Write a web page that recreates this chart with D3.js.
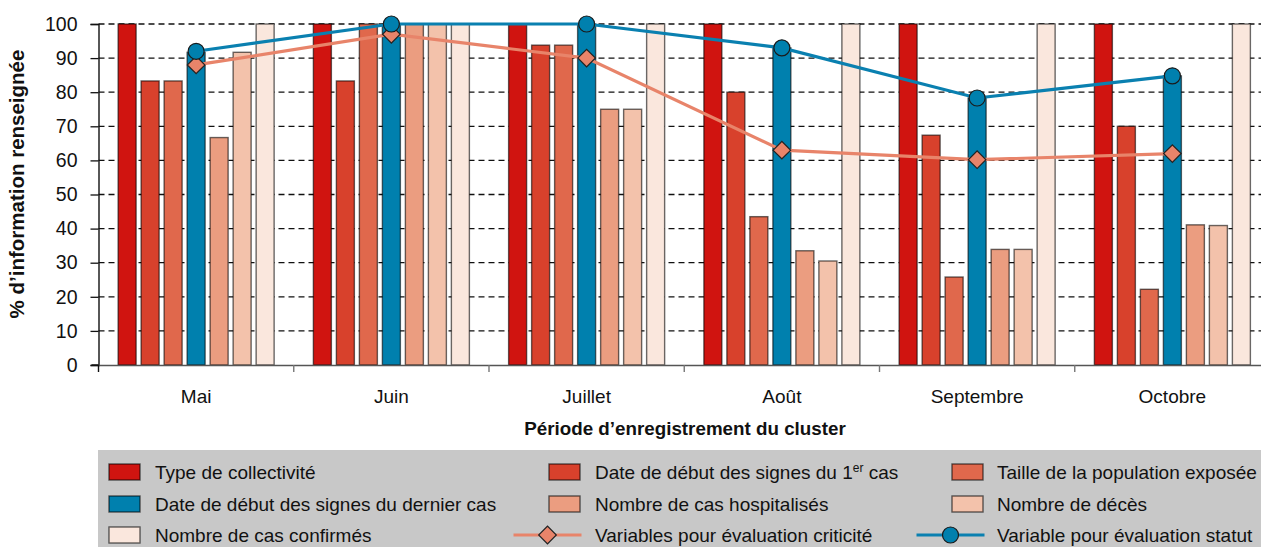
<!DOCTYPE html>
<html><head><meta charset="utf-8">
<script src="https://cdn.jsdelivr.net/npm/d3@7"></script>
<style>body{margin:0;background:#fff;} svg{display:block;}</style>
</head><body>
<svg id="c" width="1261" height="547"></svg>
<script>
const categories = ["Mai","Juin","Juillet","Août","Septembre","Octobre"];
const seriesNames = ["Type de collectivité","Date de début des signes du 1er cas","Taille de la population exposée","Date de début des signes du dernier cas","Nombre de cas hospitalisés","Nombre de décès","Nombre de cas confirmés"];
const typeCollectivite = [100,100,100,100,100,100];
const dateDebutPremier = [83.3,83.3,93.8,80,67.4,70];
const taillePopulation = [83.3,100,93.8,43.5,25.8,22.2];
const dateDebutDernier = [91.7,100,100,93,78.3,84.8];
const nbHospitalises = [66.7,100,75,33.5,33.9,41.1];
const nbDeces = [91.7,100,75,30.5,33.9,40.9];
const nbConfirmes = [100,100,100,100,100,100];
const criticite = [88,97,90,63,60.2,62];
const statut = [92,100,100,93,78.3,84.8];
const yTicks = [0,10,20,30,40,50,60,70,80,90,100];

const barSeries = [typeCollectivite,dateDebutPremier,taillePopulation,dateDebutDernier,nbHospitalises,nbDeces,nbConfirmes];
const colors = ["#d01410","#d8412c","#e0684c","#0080ae","#eb9d80","#f3c2ab","#fae7dd"];
const blue = "#0a80b0", salmon = "#e8846a";
const FONT = "'Liberation Sans',Arial,sans-serif";

const svg = d3.select("#c");
const plotTop = 24, plotBottom = 365, plotLeft = 98.5, plotRight = 1270;
const y = d3.scaleLinear().domain([0,100]).range([plotBottom, plotTop]);
const x0 = d3.scaleBand().domain(categories).range([plotLeft, plotRight]).padding(0);
const x1 = d3.scaleBand().domain(d3.range(7)).range([0, x0.bandwidth()]).paddingInner(5/23).paddingOuter(0.853);

// gridlines
svg.append("g").selectAll("line").data(yTicks.filter(t=>t>0)).join("line")
  .attr("x1", plotLeft).attr("x2", 1261).attr("y1", d=>y(d)).attr("y2", d=>y(d))
  .attr("stroke", "#111").attr("stroke-width", 1.3).attr("stroke-dasharray", "6,4");

// bars
const groups = svg.append("g").selectAll("g").data(categories).join("g")
  .attr("transform", d=>`translate(${x0(d)},0)`);
groups.selectAll("rect").data((c,i)=>barSeries.map((s,k)=>({k, v:s[i]}))).join("rect")
  .attr("x", d=>x1(d.k)).attr("width", x1.bandwidth())
  .attr("y", d=>y(d.v)).attr("height", d=>y(0)-y(d.v))
  .attr("fill", d=>colors[d.k]).attr("stroke", "rgba(0,0,0,0.58)").attr("stroke-width", 1.4);

// y axis
const yAxis = svg.append("g").attr("transform", `translate(${plotLeft},0)`)
  .call(d3.axisLeft(y).tickValues(yTicks).tickSize(8).tickPadding(13));
yAxis.select(".domain").attr("stroke", "#111").attr("stroke-width", 1.4);
yAxis.selectAll(".tick line").attr("stroke", "#111").attr("stroke-width", 1.3);
yAxis.selectAll("text").attr("font-family", FONT).attr("font-size", 19.5).attr("fill", "#111");

// x axis
const xAxis = svg.append("g").attr("transform", `translate(0,${plotBottom})`)
  .call(d3.axisBottom(x0).tickSize(0).tickPadding(25));
xAxis.select(".domain").attr("stroke", "#555").attr("stroke-width", 1.4);
xAxis.selectAll("text").attr("font-family", FONT).attr("font-size", 19).attr("fill", "#111");
svg.append("line").attr("x1", plotLeft-7).attr("x2", plotLeft).attr("y1", plotBottom).attr("y2", plotBottom).attr("stroke","#111").attr("stroke-width",1.4);
svg.append("g").selectAll("line").data(categories).join("line")
  .attr("x1", d=>x0(d)).attr("x2", d=>x0(d)).attr("y1", plotBottom).attr("y2", plotBottom+7)
  .attr("stroke", (d,i)=>i===0?"#111":"#777").attr("stroke-width", 1.4);

// lines
const cx = d=>x0(d)+x0.bandwidth()/2;
const lineGen = vals => d3.line().x((d,i)=>cx(categories[i])).y(d=>y(d))(vals);
svg.append("path").attr("d", lineGen(criticite)).attr("fill","none").attr("stroke", salmon).attr("stroke-width", 3.2);
svg.append("path").attr("d", lineGen(statut)).attr("fill","none").attr("stroke", blue).attr("stroke-width", 3.2);
svg.append("g").selectAll("path").data(criticite).join("path")
  .attr("d", d3.symbol().type(d3.symbolSquare).size(155)())
  .attr("transform", (d,i)=>`translate(${cx(categories[i])},${y(d)}) rotate(45)`)
  .attr("fill", salmon).attr("stroke", "#222").attr("stroke-width", 1.2);
svg.append("g").selectAll("circle").data(statut).join("circle")
  .attr("cx", (d,i)=>cx(categories[i])).attr("cy", d=>y(d)).attr("r", 8)
  .attr("fill", "#0080ae").attr("stroke", "#1a1a1a").attr("stroke-width", 1.2);

// axis titles
svg.append("text").attr("transform", "translate(24,184) rotate(-90)").attr("text-anchor","middle")
  .attr("font-family", FONT).attr("font-size", 20.5).attr("font-weight","bold").attr("fill","#111")
  .text("% d’information renseignée");
svg.append("text").attr("x", 685).attr("y", 435).attr("text-anchor","middle")
  .attr("font-family", FONT).attr("font-size", 18.8).attr("font-weight","bold").attr("fill","#111")
  .text("Période d’enregistrement du cluster");

// legend
svg.append("rect").attr("x", 98).attr("y", 450).attr("width", 1261-98).attr("height", 97).attr("fill", "#c8c8c8");
const colSw = [109, 549, 952], colTx = [155, 595, 997], rowY = [472, 504, 535];
const legendItems = seriesNames.map((n,k)=>({name:n, type:"bar", k}))
  .concat([{name:"Variables pour évaluation criticité", type:"diamond"},{name:"Variable pour évaluation statut", type:"circle"}]);
const lg = svg.append("g");
legendItems.forEach((it, idx)=>{
  const col = idx % 3, row = Math.floor(idx/3);
  const cyv = rowY[row];
  if (it.type === "bar") {
    lg.append("rect").attr("x", colSw[col]).attr("y", cyv-8).attr("width", 31).attr("height", 16)
      .attr("fill", colors[it.k]).attr("stroke", "rgba(0,0,0,0.6)").attr("stroke-width", 1.4);
  } else {
    const mid = colSw[col] + 15.5 - 17;
    const col_ = it.type === "diamond" ? salmon : blue;
    lg.append("line").attr("x1", mid-34).attr("x2", mid+34).attr("y1", cyv).attr("y2", cyv)
      .attr("stroke", col_).attr("stroke-width", 3.2);
    if (it.type === "diamond") {
      lg.append("path").attr("d", d3.symbol().type(d3.symbolSquare).size(155)())
        .attr("transform", `translate(${mid},${cyv}) rotate(45)`)
        .attr("fill", salmon).attr("stroke", "#222").attr("stroke-width", 1.2);
    } else {
      lg.append("circle").attr("cx", mid).attr("cy", cyv).attr("r", 8)
        .attr("fill", "#0080ae").attr("stroke", "#1a1a1a").attr("stroke-width", 1.2);
    }
  }
  const t = lg.append("text").attr("x", colTx[col]).attr("y", cyv + 7)
    .attr("font-family", FONT).attr("font-size", 19).attr("fill", "#111");
  if (it.name.includes("1er")) {
    const parts = it.name.split("1er");
    t.append("tspan").text(parts[0] + "1");
    t.append("tspan").attr("font-size", 12).attr("dy", -7).text("er");
    t.append("tspan").attr("dy", 7).text(parts[1]);
  } else t.text(it.name);
});
</script>
</body></html>
